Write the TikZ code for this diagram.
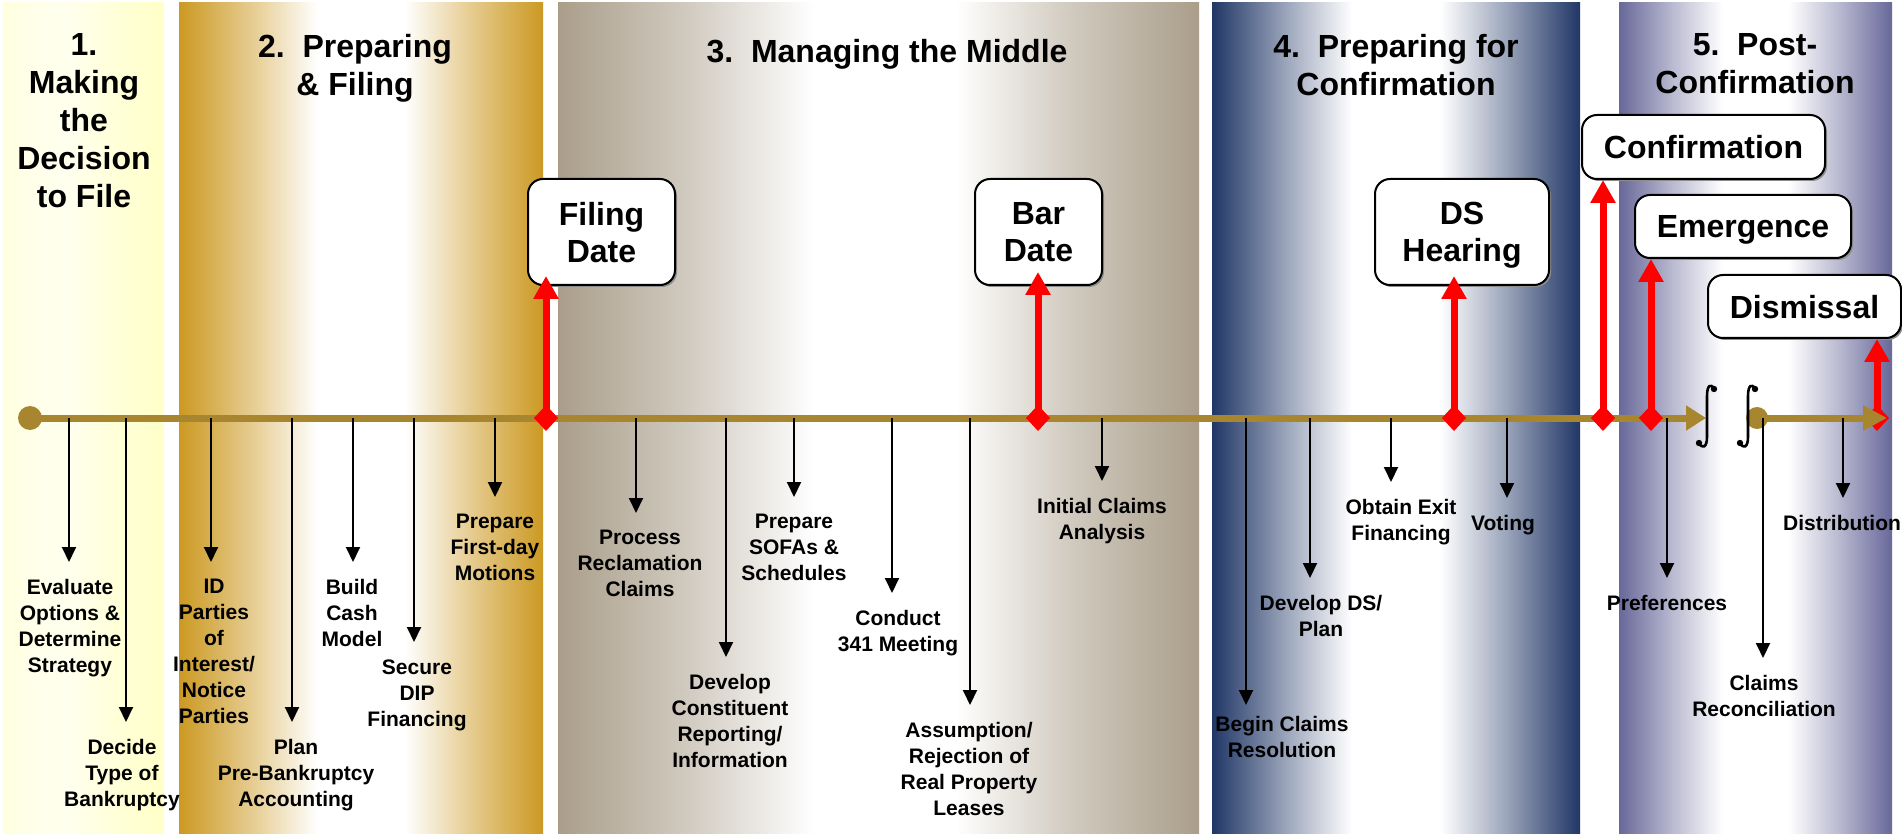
\documentclass[tikz,border=0pt]{standalone}
\usepackage{fontspec}
\setmainfont{Liberation Sans}
\usetikzlibrary{arrows.meta,shadows}

\definecolor{yellowband}{RGB}{255,255,200}
\definecolor{goldband}{RGB}{204,153,34}
\definecolor{taupeband}{RGB}{170,158,138}
\definecolor{navyband}{RGB}{32,54,102}
\definecolor{slateband}{RGB}{104,104,154}
\definecolor{tlcolor}{RGB}{168,134,48}

\pgfdeclarehorizontalshading{yellowfade}{100bp}{color(0bp)=(yellowband); color(25bp)=(yellowband!60!white); color(33bp)=(yellowband!40!white); color(45bp)=(yellowband!30!white); color(60bp)=(yellowband!70!white); color(75bp)=(yellowband); color(100bp)=(yellowband)}
\pgfdeclarehorizontalshading{goldfade}{100bp}{color(0bp)=(goldband); color(25bp)=(goldband); color(35bp)=(goldband!50!white); color(44bp)=(white); color(56bp)=(white); color(65bp)=(goldband!50!white); color(75bp)=(goldband); color(100bp)=(goldband)}
\pgfdeclarehorizontalshading{taupefade}{100bp}{color(0bp)=(taupeband); color(25bp)=(taupeband); color(35bp)=(taupeband!55!white); color(45bp)=(white); color(56bp)=(white); color(65bp)=(taupeband!55!white); color(75bp)=(taupeband); color(100bp)=(taupeband)}
\pgfdeclarehorizontalshading{navyfade}{100bp}{color(0bp)=(navyband); color(25bp)=(navyband); color(35bp)=(navyband!45!white); color(44bp)=(white); color(56bp)=(white); color(65bp)=(navyband!45!white); color(75bp)=(navyband); color(100bp)=(navyband)}
\pgfdeclarehorizontalshading{slatefade}{100bp}{color(0bp)=(slateband); color(25bp)=(slateband); color(35bp)=(slateband!45!white); color(44bp)=(white); color(56bp)=(white); color(65bp)=(slateband!45!white); color(75bp)=(slateband); color(100bp)=(slateband)}

\begin{document}
\begin{tikzpicture}[x=0.5pt,y=-0.5pt,
    ttl/.style={font=\fontsize{16pt}{19pt}\selectfont\bfseries, align=center, anchor=north, inner sep=0pt},
    lbl/.style={font=\fontsize{10.5pt}{13pt}\selectfont\bfseries, align=center, anchor=north, inner xsep=0pt, inner ysep=8.5pt},
    datebox/.style={draw=black, line width=1pt, fill=white, rounded corners=7.5pt, inner sep=0pt, text depth=0pt,
      font=\fontsize{16pt}{18.5pt}\selectfont\bfseries, align=center,
      drop shadow={shadow xshift=1pt, shadow yshift=-1pt, fill=black!45, opacity=1}},
    tline/.style={draw=tlcolor, line width=3.5pt},
    down/.style={draw=black, line width=1pt, -{Triangle[width=7pt,length=7.5pt]}},
    mile/.style={draw=red, line width=3.5pt, {Diamond[width=12pt,length=13pt]}-{Triangle[width=12pt,length=11.5pt]}},
    brk/.style={draw=black, line width=1.3pt}]

    \useasboundingbox (0,0) rectangle (1902,834);
    \fill[white] (0,0) rectangle (1902,834);

    \shade[shading=yellowfade] (3,3) rectangle (164,834);
    \shade[shading=goldfade] (179,3) rectangle (543,834);
    \shade[shading=taupefade] (558,3) rectangle (1199,834);
    \shade[shading=navyfade] (1212,3) rectangle (1580,834);
    \shade[shading=slatefade] (1619,3) rectangle (1892,834);

    \node[ttl] (t1) at (84,33.5) {1.\\Making\\the\\Decision\\to File};
    \node[ttl] (t2) at (355,33.5) {2.\ \ Preparing\\\& Filing};
    \node[ttl] (t3) at (887,38.5) {3.\ \ Managing the Middle};
    \node[ttl] (t4) at (1396,33.5) {4.\ \ Preparing for\\Confirmation};
    \node[ttl] (t5) at (1755,33.5) {5.\ \ Post-\\Confirmation};

    \node[datebox, minimum width=73.5pt, minimum height=53pt] (filing) at (601.5,232) {Filing\\Date};
    \node[datebox, minimum width=63.5pt, minimum height=53pt] (bar) at (1038.5,232) {Bar\\Date};
    \node[datebox, minimum width=87pt, minimum height=53pt] (hearing) at (1462,232) {DS\\Hearing};
    \node[datebox, minimum width=121.5pt, minimum height=32pt] (confirm) at (1703.5,147) {Confirmation};
    \node[datebox, minimum width=108pt, minimum height=31.5pt] (emerge) at (1743,226.5) {Emergence};
    \node[datebox, minimum width=96.5pt, minimum height=31.5pt] (dismiss) at (1804.5,306.5) {Dismissal};

    \coordinate (m1) at (546,431);
    \coordinate (m2) at (1038,431);
    \coordinate (m3) at (1454,431);
    \coordinate (m4) at (1603,431);
    \coordinate (m5) at (1651,431);
    \coordinate (m6) at (1877,431);
    \draw[mile] (m6) -- (m6 |- dismiss.south);

    \coordinate (tl0) at (30,418);
    \coordinate (tlA) at (1706,418);
    \coordinate (tl1) at (1757,418);
    \coordinate (tlB) at (1887,418);
    \draw[tline, -{Triangle[width=12pt,length=10pt]}] (tl0) -- (tlA);
    \fill[tlcolor] (tl0) circle (6pt);
    \draw[tline, -{Triangle[width=12pt,length=12pt]}] (tl1) -- (tlB);
    \fill[tlcolor] (tl1) circle (5.5pt);

    \draw[brk] (1714,389) .. controls (1711,383) and (1707,385) .. (1707,396) -- (1707,437) .. controls (1707,448) and (1702,449) .. (1699,443);
    \fill (1714,389) circle (1.6pt); \fill (1699,443) circle (1.6pt);
    \draw[brk] (1755,389) .. controls (1752,383) and (1748,385) .. (1748,396) -- (1748,437) .. controls (1748,448) and (1743,449) .. (1740,443);
    \fill (1755,389) circle (1.6pt); \fill (1740,443) circle (1.6pt);

    \coordinate (a1) at (69,418);   \node[lbl] (evaluate) at (70,562) {Evaluate\\Options \&\\Determine\\Strategy};
    \coordinate (a2) at (126,418);  \node[lbl] (decide) at (122,722) {Decide\\Type of\\Bankruptcy};
    \coordinate (a3) at (211,418);  \node[lbl] (parties) at (214,562) {ID\\Parties\\of\\Interest/\\Notice\\Parties};
    \coordinate (a4) at (292,418);  \node[lbl] (plan) at (296,722) {Plan\\Pre-Bankruptcy\\Accounting};
    \coordinate (a5) at (353,418);  \node[lbl] (cash) at (352,562) {Build\\Cash\\Model};
    \coordinate (a6) at (414,418);  \node[lbl] (dip) at (417,642) {Secure\\DIP\\Financing};
    \coordinate (a7) at (495,418);  \node[lbl] (motions) at (495,497) {Prepare\\First-day\\Motions};
    \coordinate (a8) at (636,418);  \node[lbl] (reclaim) at (640,513) {Process\\Reclamation\\Claims};
    \coordinate (a9) at (726,418);  \node[lbl] (reporting) at (730,657) {Develop\\Constituent\\Reporting/\\Information};
    \coordinate (a10) at (794,418); \node[lbl] (sofas) at (794,497) {Prepare\\SOFAs \&\\Schedules};
    \coordinate (a11) at (892,418); \node[lbl] (meeting) at (898,593) {Conduct\\341 Meeting};
    \coordinate (a12) at (970,418); \node[lbl] (leases) at (969,705) {Assumption/\\Rejection of\\Real Property\\Leases};
    \coordinate (a13) at (1102,418); \node[lbl] (initial) at (1102,481) {Initial Claims\\Analysis};
    \coordinate (a14) at (1246,418); \node[lbl, inner ysep=5.5pt] (resolution) at (1282,705) {Begin Claims\\Resolution};
    \coordinate (a15) at (1310,418); \node[lbl] (dsplan) at (1321,578) {Develop DS/\\Plan};
    \coordinate (a16) at (1391,418); \node[lbl] (exit) at (1401,482) {Obtain Exit\\Financing};
    \coordinate (a17) at (1507,418); \node[lbl] (voting) at (1503,498) {Voting};
    \coordinate (a18) at (1667,418); \node[lbl] (preferences) at (1667,578) {Preferences};
    \coordinate (a19) at (1763,418); \node[lbl] (reconcile) at (1764,658) {Claims\\Reconciliation};
    \coordinate (a20) at (1843,418); \node[lbl] (distribution) at (1842,498) {Distribution};

    \draw[down] (a1) -- (a1 |- evaluate.north);
    \draw[down] (a2) -- (a2 |- decide.north);
    \draw[down] (a3) -- (a3 |- parties.north);
    \draw[down] (a4) -- (a4 |- plan.north);
    \draw[down] (a5) -- (a5 |- cash.north);
    \draw[down] (a6) -- (a6 |- dip.north);
    \draw[down] (a7) -- (a7 |- motions.north);
    \draw[down] (a8) -- (a8 |- reclaim.north);
    \draw[down] (a9) -- (a9 |- reporting.north);
    \draw[down] (a10) -- (a10 |- sofas.north);
    \draw[down] (a11) -- (a11 |- meeting.north);
    \draw[down] (a12) -- (a12 |- leases.north);
    \draw[down] (a13) -- (a13 |- initial.north);
    \draw[down] (a14) -- (a14 |- resolution.north);
    \draw[down] (a15) -- (a15 |- dsplan.north);
    \draw[down] (a16) -- (a16 |- exit.north);
    \draw[down] (a17) -- (a17 |- voting.north);
    \draw[down] (a18) -- (a18 |- preferences.north);
    \draw[down] (a19) -- (a19 |- reconcile.north);
    \draw[down] (a20) -- (a20 |- distribution.north);

    \draw[mile, shorten >=-5pt] (m1) -- (m1 |- filing.south);
    \draw[mile, shorten >=-7pt] (m2) -- (m2 |- bar.south);
    \draw[mile, shorten >=-5pt] (m3) -- (m3 |- hearing.south);
    \draw[mile] (m4) -- (m4 |- confirm.south);
    \draw[mile] (m5) -- (m5 |- emerge.south);

\end{tikzpicture}
\end{document}
